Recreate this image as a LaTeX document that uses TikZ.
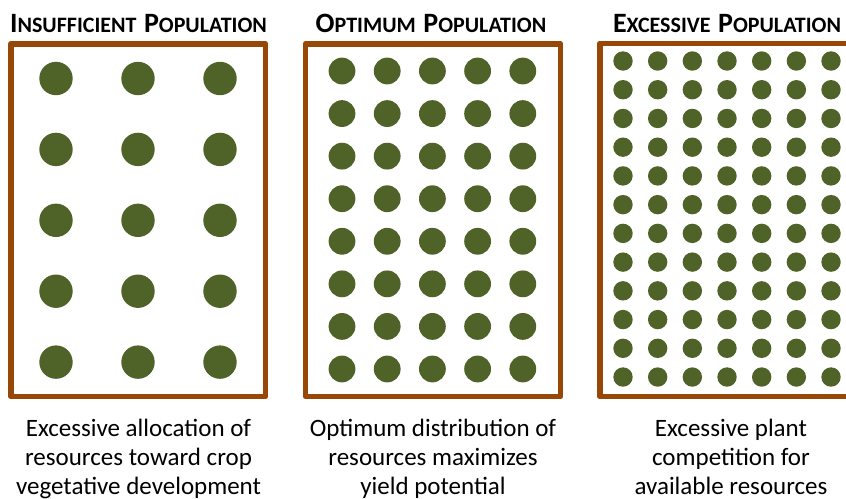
\documentclass[tikz,border=0pt]{standalone}
\usepackage{fontspec}
\setmainfont{Carlito}
\definecolor{framebrown}{HTML}{974806}
\definecolor{plantgreen}{HTML}{4F6228}
% small capitals built from two sizes of bold capitals
\newcommand{\capbig}[1]{{\fontsize{28}{28}\selectfont #1}}
\newcommand{\capsmall}[1]{{\fontsize{22}{22}\selectfont #1}}
\newcommand{\capgap}{\hspace{7.5pt}}
\begin{document}
\begin{tikzpicture}[x=1pt,y=-1pt,
  plot/.style={draw=framebrown,line width=5.6pt,line join=round},
  plant/.style={fill=plantgreen},
  heading/.style={font=\bfseries,inner sep=0pt,anchor=base},
  caption/.style={font=\fontsize{25}{29}\selectfont,align=center,inner sep=0pt,anchor=base}]
  \useasboundingbox (0,0) rectangle (846,498);
  \clip (0,0) rectangle (846,498);

  % plots
  \draw[plot] (10.8,43.8) rectangle (265.5,396.5);
  \draw[plot] (305.5,43.8) rectangle (560.5,396.5);
  \draw[plot] (599.8,43.3) rectangle (854.5,396.5);

  % plants: 3 x 5
  \foreach \i in {0,1,2}
    \foreach \j in {0,...,4}
      \fill[plant] (56+82*\i,78.5+70.9*\j) circle (16.7);
  % plants: 5 x 8
  \foreach \i in {0,...,4}
    \foreach \j in {0,...,7}
      \fill[plant] (342+45.2*\i,71+42.57*\j) circle (13.4);
  % plants: 7 x 12
  \foreach \i in {0,...,6}
    \foreach \j in {0,...,11}
      \fill[plant] (623+34.67*\i,61+28.73*\j) circle (9.7);

  % headings
  \node[heading] (h1) at (138.5,32) {\capbig{I}\capsmall{NSUFFICIENT}\capgap\capbig{P}\capsmall{OPULATION}};
  \node[heading] (h2) at (431,32) {\capbig{O}\capsmall{PTIMUM}\capgap\capbig{P}\capsmall{OPULATION}};
  \node[heading] (h3) at (727,32) {\capbig{E}\capsmall{XCESSIVE}\capgap\capbig{P}\capsmall{OPULATION}};

  % captions (anchored at the baseline of the last line)
  \node[caption] (c1) at (138.5,494) {Excessive allocation of\\resources toward crop\\vegetative development};
  \node[caption] (c2) at (433,494) {Optimum distribution of\\resources maximizes\\yield potential};
  \node[caption] (c3) at (731,494) {Excessive plant\\competition for\\available resources};
\end{tikzpicture}
\end{document}
